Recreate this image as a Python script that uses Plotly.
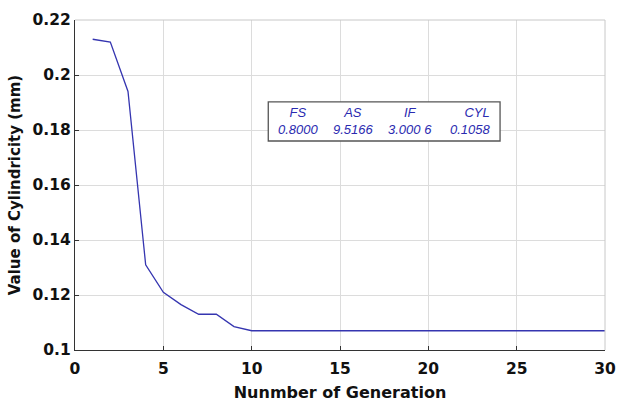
import plotly.graph_objects as go

generation = list(range(1, 31))
cylindricity = [0.213, 0.212, 0.194, 0.131, 0.121, 0.1165, 0.113, 0.113, 0.1085, 0.107] + [0.107] * 20

x_ticks = [0, 5, 10, 15, 20, 25, 30]
y_ticks = [0.1, 0.12, 0.14, 0.16, 0.18, 0.2, 0.22]
y_tick_labels = ["0.1", "0.12", "0.14", "0.16", "0.18", "0.2", "0.22"]

table_headers = ["FS", "AS", "IF", "CYL"]
table_values = ["0.8000", "9.5166", "3.000 6", "0.1058"]

fig = go.Figure()
fig.add_trace(go.Scatter(x=generation, y=cylindricity, mode="lines",
                         line=dict(color="#3535b0", width=1.3), showlegend=False))

tick_font = dict(family="DejaVu Sans", size=15.5, color="#111", weight="bold")
fig.update_layout(
    width=627, height=410,
    margin=dict(l=75, r=11, t=16, b=56),
    paper_bgcolor="white", plot_bgcolor="white",
    xaxis=dict(range=[0, 30], tickvals=x_ticks, showgrid=True, gridcolor="#dcdcdc",
               showline=True, linecolor="#333", linewidth=1.2, ticks="inside", ticklen=4,
               tickcolor="#333", zeroline=False, tickfont=tick_font, ticklabelstandoff=4,
               title=dict(text="Nunmber of Generation",
                          font=dict(family="DejaVu Sans", size=16, color="#111", weight="bold"), standoff=10)),
    yaxis=dict(range=[0.1, 0.22], tickvals=y_ticks, ticktext=y_tick_labels,
               showgrid=True, gridcolor="#dcdcdc",
               showline=True, linecolor="#333", linewidth=1.2, ticks="inside", ticklen=4,
               tickcolor="#333", zeroline=False, tickfont=tick_font,
               title=dict(text="Value of Cylindricity (mm)",
                          font=dict(family="DejaVu Sans", size=15, color="#111", weight="bold"), standoff=8)),
)
# top/right light box lines
fig.add_shape(type="line", xref="paper", yref="paper", x0=0, x1=1, y0=1, y1=1, line=dict(color="#c8c8c8", width=1))
fig.add_shape(type="line", xref="paper", yref="paper", x0=1, x1=1, y0=0, y1=1, line=dict(color="#c8c8c8", width=1))

# parameter box
fig.add_shape(type="rect", xref="x", yref="y", x0=10.94, x1=24.06, y0=0.176, y1=0.1902,
              line=dict(color="#555", width=1.3), fillcolor="white")
col_x = [12.67, 15.78, 18.94, 23.61]
col_anchor = ["center", "center", "center", "right"]
txt_font = dict(family="Liberation Sans", size=13, color="#2a2ab0", style="italic")
for h, v, xx, anc in zip(table_headers, table_values, col_x, col_anchor):
    fig.add_annotation(x=xx, y=0.1832, xref="x", yref="y", text=h + "<br>" + v,
                       xanchor=anc, align=anc if anc != "center" else "center",
                       showarrow=False, font=txt_font, borderpad=0)

fig.write_html("out.html")
